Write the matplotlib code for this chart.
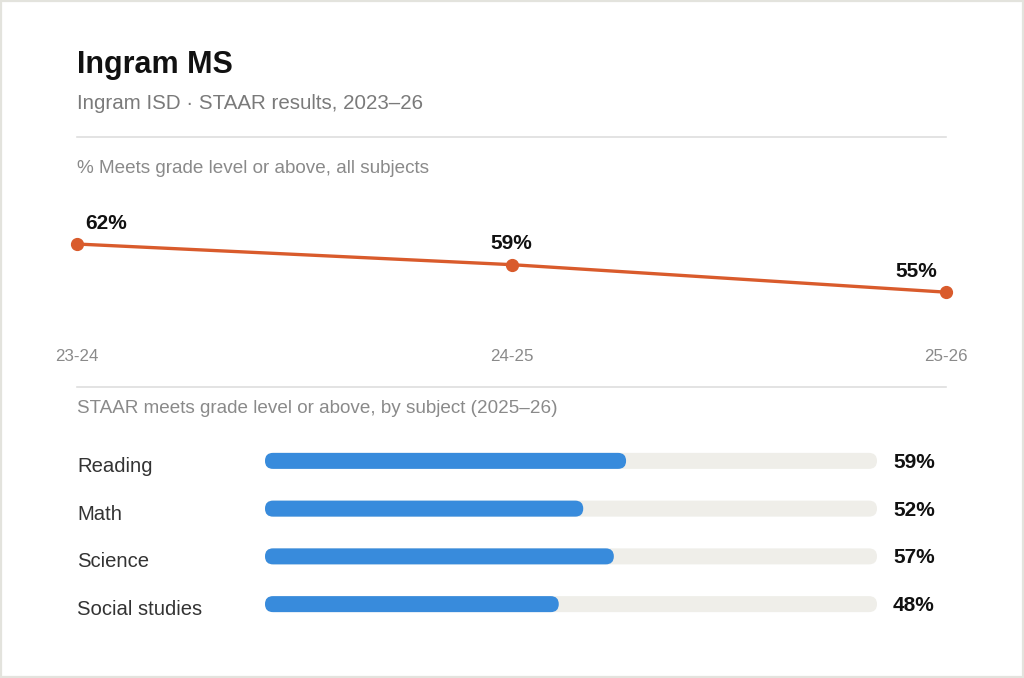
import matplotlib
matplotlib.use("Agg")
import matplotlib.pyplot as plt
from matplotlib.patches import FancyBboxPatch, Rectangle
from matplotlib.lines import Line2D

plt.rcParams['font.family'] = ['Liberation Sans', 'DejaVu Sans']

# data
school = "Ingram MS"
subtitle = "Ingram ISD \u00b7 STAAR results, 2023\u201326"
years = ["23-24", "24-25", "25-26"]
meets_pct = [62, 59, 55]
subjects = ["Reading", "Math", "Science", "Social studies"]
subject_pct = [59, 52, 57, 48]

W, H = 1024, 678
ORANGE = "#d95b2c"
BLUE = "#388bdc"
TRACK = "#efeee9"


def px_axes(fig, left, top, right, bottom):
    # axes placed in pixel coordinates (top-left origin)
    return fig.add_axes([left / W, 1 - bottom / H, (right - left) / W, (bottom - top) / H])


def fy(y):
    return 1 - y / H


fig = plt.figure(figsize=(W / 100, H / 100), dpi=100)
fig.patch.set_facecolor("white")

# outer frame
fig.add_artist(Rectangle((0.001, 0.0015), 0.998, 0.997, transform=fig.transFigure,
                         fill=False, edgecolor="#e3e3dd", linewidth=1.6))

# header
fig.text(77 / W, fy(73), school, fontsize=22, fontweight="bold", color="#111111", va="baseline")
fig.text(77 / W, fy(109), subtitle, fontsize=14.8, color="#7a7a7a", va="baseline")
fig.add_artist(Line2D([77 / W, 946 / W], [fy(137)] * 2, color="#dedede", lw=1.2))
fig.text(77 / W, fy(173), "% Meets grade level or above, all subjects",
         fontsize=13.6, color="#8a8a8a", va="baseline")

# line chart
ax = px_axes(fig, 77, 200, 946, 330)
x = list(range(len(years)))
ax.plot(x, meets_pct, color=ORANGE, lw=2.4, marker="o", markersize=8.5, clip_on=False)
ax.set_xlim(0, len(years) - 1)
ax.set_ylim(49.5, 68.4)
ax.set_xticks(x)
ax.set_xticklabels(years, fontsize=12.2, color="#8a8a8a")
ax.tick_params(axis="x", length=0, pad=14)
ax.set_yticks([])
for s in ax.spines.values():
    s.set_visible(False)
ax.patch.set_alpha(0)
for i, v in enumerate(meets_pct):
    if i == 0:
        ha, dx = "left", 8
    elif i == len(meets_pct) - 1:
        ha, dx = "right", -9
    else:
        ha, dx = "center", 0
    ax.annotate(f"{v}%", (i, v), xytext=(dx, 15.5), textcoords="offset pixels",
                ha=ha, va="baseline", fontsize=15, fontweight="bold", color="#111111")

# second section
fig.add_artist(Line2D([77 / W, 946 / W], [fy(387)] * 2, color="#dedede", lw=1.2))
fig.text(77 / W, fy(413), "STAAR meets grade level or above, by subject (2025\u201326)",
         fontsize=13.6, color="#8a8a8a", va="baseline")

# bar chart
bl, bt, br, bb = 265, 437, 877, 628
bx = px_axes(fig, bl, bt, br, bb)
bx.set_xlim(0, 100)
bx.set_ylim(len(subjects) - 0.5, -0.5)
bx.axis("off")
px_x = (br - bl) / 100
px_y = (bb - bt) / len(subjects)
bar_h = 16 / px_y
r = 8 / px_x
aspect = px_x / px_y
for i, (name, v) in enumerate(zip(subjects, subject_pct)):
    for val, col in ((100, TRACK), (v, BLUE)):
        bx.add_patch(FancyBboxPatch((0, i - bar_h / 2), val, bar_h,
                                    boxstyle=f"round,pad=0,rounding_size={r}",
                                    mutation_aspect=aspect, facecolor=col,
                                    edgecolor="none"))
    bx.annotate(name, (0, i), xytext=(77 - bl, -11), textcoords="offset pixels",
                ha="left", va="baseline", fontsize=14.6, color="#333333",
                annotation_clip=False)
    bx.annotate(f"{v}%", (100, i), xytext=(16, -7), textcoords="offset pixels",
                ha="left", va="baseline", fontsize=15, fontweight="bold",
                color="#111111", annotation_clip=False)

fig.savefig("out.png", dpi=100)
